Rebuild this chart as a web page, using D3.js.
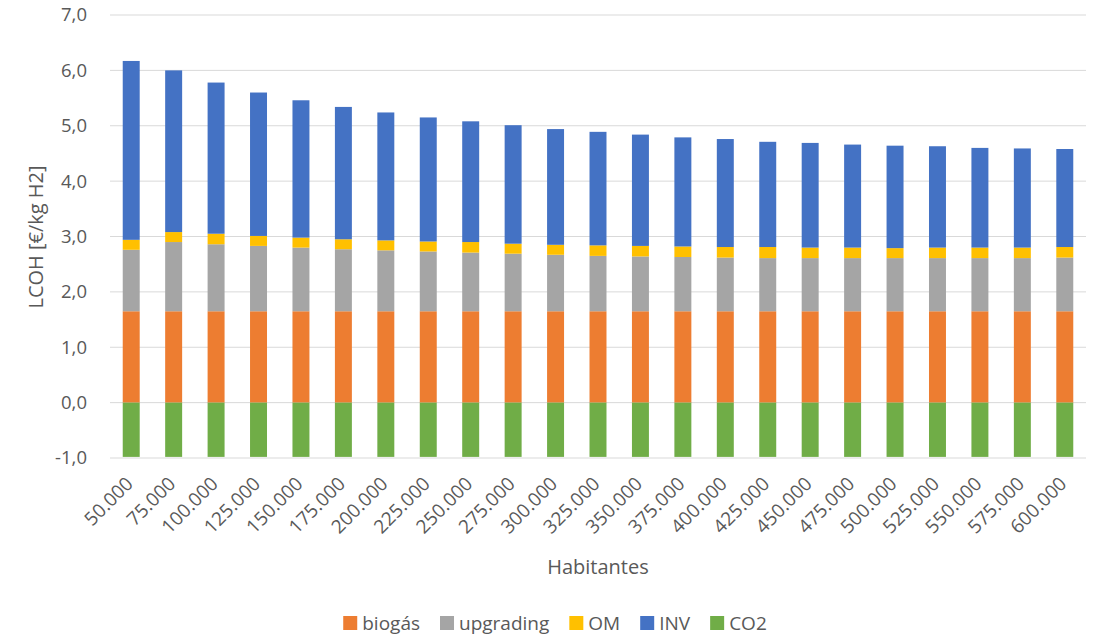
<!DOCTYPE html>
<html>
<head>
<meta charset="utf-8">
<script src="https://cdn.jsdelivr.net/npm/d3@7"></script>
<style>
  body { margin: 0; background: #fff; }
  svg { display: block; font-family: "Open Sans", sans-serif; }
</style>
</head>
<body>
<div id="chart"></div>
<script>
var habitantes = ["50.000", "75.000", "100.000", "125.000", "150.000", "175.000", "200.000", "225.000",
  "250.000", "275.000", "300.000", "325.000", "350.000", "375.000", "400.000", "425.000", "450.000",
  "475.000", "500.000", "525.000", "550.000", "575.000", "600.000"];
var biogas = [1.65, 1.65, 1.65, 1.65, 1.65, 1.65, 1.65, 1.65, 1.65, 1.65, 1.65, 1.65, 1.65, 1.65, 1.65, 1.65,
  1.65, 1.65, 1.65, 1.65, 1.65, 1.65, 1.65];
var upgrading = [1.11, 1.25, 1.21, 1.18, 1.15, 1.12, 1.10, 1.08, 1.06, 1.04, 1.02, 1.00, 0.99, 0.98, 0.97, 0.96,
  0.96, 0.96, 0.96, 0.96, 0.96, 0.96, 0.97];
var om = [0.18, 0.18, 0.19, 0.18, 0.18, 0.18, 0.18, 0.18, 0.19, 0.18, 0.18, 0.19, 0.19, 0.19, 0.19, 0.20,
  0.19, 0.19, 0.18, 0.19, 0.19, 0.19, 0.19];
var inv = [3.23, 2.92, 2.73, 2.59, 2.48, 2.39, 2.31, 2.24, 2.18, 2.14, 2.09, 2.05, 2.01, 1.97, 1.95, 1.90,
  1.89, 1.86, 1.85, 1.83, 1.80, 1.79, 1.77];
var co2 = [-0.98, -0.98, -0.98, -0.98, -0.98, -0.98, -0.98, -0.98, -0.98, -0.98, -0.98, -0.98, -0.98, -0.98,
  -0.98, -0.98, -0.98, -0.98, -0.98, -0.98, -0.98, -0.98, -0.98];
var yTicks = [-1, 0, 1, 2, 3, 4, 5, 6, 7];

var seriesNames = ["biogás", "upgrading", "OM", "INV", "CO2"];
var seriesValues = [biogas, upgrading, om, inv, co2];
var colors = ["#ED7D31", "#A5A5A5", "#FFC000", "#4472C4", "#70AD47"];

var W = 1096, H = 636;
var plotL = 110, plotR = 1086, plotT = 15, plotB = 458;

var svg = d3.select("#chart").append("svg").attr("width", W).attr("height", H);

var rows = habitantes.map(function (h, i) {
  var r = { hab: h };
  seriesNames.forEach(function (s, j) { r[s] = seriesValues[j][i]; });
  return r;
});

var layers = d3.stack().keys(seriesNames).offset(d3.stackOffsetDiverging)(rows);

var x = d3.scaleBand().domain(habitantes).range([plotL, plotR]).paddingInner(0.6).paddingOuter(0.3);
var y = d3.scaleLinear().domain([-1, 7]).range([plotB, plotT]);

// gridlines
svg.append("g").selectAll("line").data(yTicks).enter().append("line")
  .attr("x1", plotL).attr("x2", plotR)
  .attr("y1", function (d) { return y(d); }).attr("y2", function (d) { return y(d); })
  .attr("stroke", "#D9D9D9").attr("stroke-width", 1);

var yAxis = d3.axisLeft(y).tickValues(yTicks).tickSize(0).tickPadding(23)
  .tickFormat(function (d) { return d.toFixed(1).replace(".", ","); });
var gy = svg.append("g").attr("transform", "translate(" + plotL + ",0)").call(yAxis);
gy.select(".domain").remove();
gy.selectAll("text").attr("fill", "#595959").style("font-size", "18.5px").style("font-family", "Open Sans");

// bars
svg.append("g").selectAll("g").data(layers).enter().append("g")
  .attr("fill", function (d, i) { return colors[i]; })
  .selectAll("rect").data(function (d) { return d; }).enter().append("rect")
  .attr("x", function (d) { return x(d.data.hab); })
  .attr("width", x.bandwidth())
  .attr("y", function (d) { return y(d[1]); })
  .attr("height", function (d) { return y(d[0]) - y(d[1]); });

var xAxis = d3.axisBottom(x).tickSize(0).tickPadding(0);
var gx = svg.append("g").attr("transform", "translate(0," + plotB + ")").call(xAxis);
gx.select(".domain").remove();
gx.selectAll("text")
  .attr("fill", "#595959").style("font-size", "19px").style("font-family", "Open Sans")
  .attr("text-anchor", "end").attr("dy", null).attr("y", 0)
  .attr("transform", "translate(3,27) rotate(-45)");

// axis titles
svg.append("text").attr("x", 598).attr("y", 574).attr("text-anchor", "middle")
  .attr("fill", "#595959").style("font-size", "20px").text("Habitantes");
svg.append("text").attr("transform", "translate(43,237) rotate(-90)").attr("text-anchor", "middle")
  .attr("fill", "#595959").style("font-size", "20px").text("LCOH [€/kg H2]");

// legend
var legend = svg.append("g");
var lx = 0;
var items = legend.selectAll("g").data(seriesNames).enter().append("g");
items.append("rect").attr("width", 14).attr("height", 14).attr("y", -14)
  .attr("fill", function (d, i) { return colors[i]; });
items.append("text").attr("x", 19).attr("y", 0).attr("fill", "#595959")
  .style("font-size", "19px").text(function (d) { return d; });
items.each(function () {
  var g = d3.select(this);
  g.attr("transform", "translate(" + lx + ",0)");
  lx += 19 + g.select("text").node().getComputedTextLength() + 20;
});
lx -= 20;
legend.attr("transform", "translate(" + (555 - lx / 2) + ",630)");
</script>
</body>
</html>
